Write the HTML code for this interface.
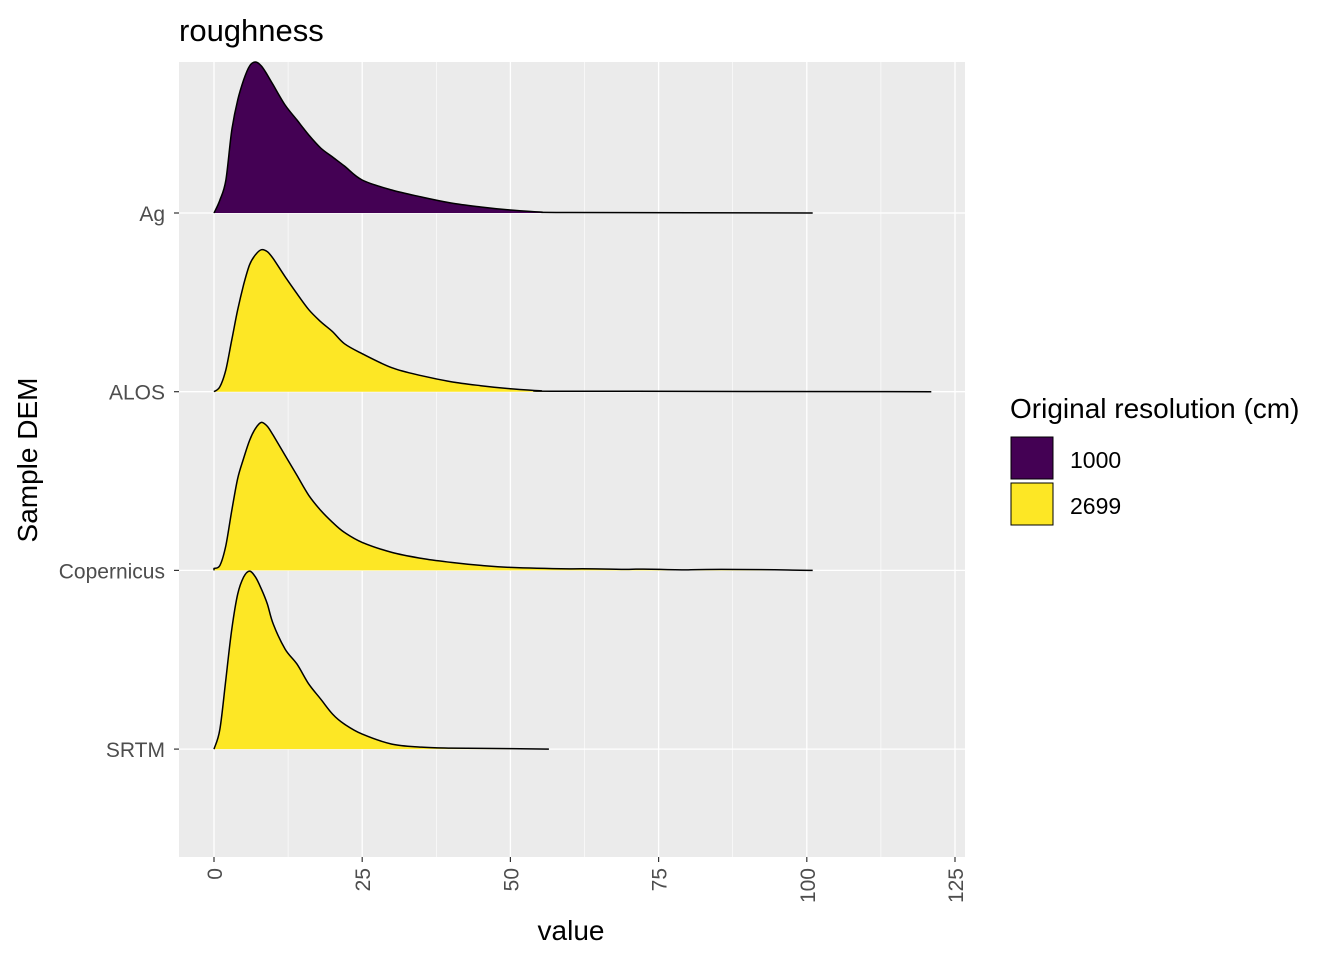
<!DOCTYPE html>
<html><head><meta charset="utf-8"><style>
body{margin:0;background:#fff;}
svg text{font-family:"Liberation Sans",Arial,sans-serif;}
</style></head><body>
<svg width="1344" height="960" xmlns="http://www.w3.org/2000/svg">
<rect width="1344" height="960" fill="#fff"/>
<text x="179" y="41" font-size="31" fill="#000">roughness</text>
<rect x="179" y="62" width="786" height="795" fill="#EBEBEB"/>
<g id="grid"></g>
<g id="ridges"></g>
<g id="axes"></g>
<text x="571" y="940" font-size="28" text-anchor="middle" fill="#000">value</text>
<text transform="translate(37,460) rotate(-90)" font-size="28" text-anchor="middle" fill="#000">Sample DEM</text>
<g>
<text x="1010" y="418" font-size="28" fill="#000">Original resolution (cm)</text>
<rect x="1011" y="437" width="42" height="42" fill="#440154" stroke="#000" stroke-width="1"/>
<text x="1070" y="468" font-size="23" fill="#000">1000</text>
<rect x="1011" y="483" width="42" height="42" fill="#FDE725" stroke="#000" stroke-width="1"/>
<text x="1070" y="514" font-size="23" fill="#000">2699</text>
</g>
</svg>
<script>
const categories = ["Ag","ALOS","Copernicus","SRTM"];
const colors = ["#440154","#FDE725","#FDE725","#FDE725"];
const xTicks = [0,25,50,75,100,125];
const agX = [0,1,2,3,4,5,6,7,8,9,10,12,14,16,18,20,22,25,30,35,40,45,50,55,60,101];
const agY = [0,13,33,83,113,133,147,151,147,138,128,108,93,78,65,56,47,33,23,16,10,6,3,1,0.5,0];
const alosX = [0,1,2,3,4,5,6,7,8,9,10,12,14,16,18,20,22,25,30,35,40,45,50,55,60,121];
const alosY = [0,5,22,52,82,107,127,137,142,140,133,115,98,82,70,60,48,38,24,16,10,6,3,1,0.5,0];
const copX = [0,1,2,3,4,5,6,7,8,9,10,12,14,16,18,20,22,25,30,35,40,45,50,60,70,80,101];
const copY = [2,5,25,60,92,112,130,142,148,144,135,115,95,75,60,48,38,28,18,12,8,5,3,1.5,1,0.5,0];
const srtmX = [0,1,2,3,4,5,6,7,8,9,10,12,14,16,18,20,22,25,30,35,40,50,56.5];
const srtmY = [0,20,70,120,155,172,178,172,160,145,125,100,85,65,50,35,25,15,5,2,1,0.5,0];
const seriesX = [agX,alosX,copX,srtmX];
const seriesY = [agY,alosY,copY,srtmY];

const NS="http://www.w3.org/2000/svg";
const xS = v => 214 + v*(741/125);
const baseY = i => 213 + i*178.7;
const hS = d => d;
function mk(tag, attrs, parent){const e=document.createElementNS(NS,tag);for(const k in attrs)e.setAttribute(k,attrs[k]);parent.appendChild(e);return e;}
function smooth(pts){
  let d=`M${pts[0][0].toFixed(1)},${pts[0][1].toFixed(1)}`;
  for(let i=0;i<pts.length-1;i++){
    const p0=pts[Math.max(0,i-1)],p1=pts[i],p2=pts[i+1],p3=pts[Math.min(pts.length-1,i+2)];
    const c1x=p1[0]+(p2[0]-p0[0])/6,c1y=p1[1]+(p2[1]-p0[1])/6;
    const c2x=p2[0]-(p3[0]-p1[0])/6,c2y=p2[1]-(p3[1]-p1[1])/6;
    d+=` C${c1x.toFixed(1)},${Math.min(c1y,pts[0][1]+0).toFixed(1)} ${c2x.toFixed(1)},${c2y.toFixed(1)} ${p2[0].toFixed(1)},${p2[1].toFixed(1)}`;
  }
  return d;
}
const grid=document.getElementById('grid'), ridges=document.getElementById('ridges'), axes=document.getElementById('axes');
for(let i=0;i<xTicks.length-1;i++){
  const v=(xTicks[i]+xTicks[i+1])/2;
  const l=mk('line',{x1:xS(v),x2:xS(v),y1:62,y2:857,stroke:'#fff','stroke-width':0.6},grid);
  
  
}
xTicks.forEach(v=>{
  const l=mk('line',{x1:xS(v),x2:xS(v),y1:62,y2:857,stroke:'#fff','stroke-width':1.3},grid);
  
  
  const t=mk('line',{x1:xS(v),x2:xS(v),y1:857,y2:862,stroke:'#333','stroke-width':1.2},axes);
  
  
  const tx=mk('text',{transform:`translate(${xS(v)+8},868) rotate(-90)`,'font-size':21,fill:'#4D4D4D','text-anchor':'end'},axes);
  tx.textContent=v;
  
  
});
categories.forEach((c,i)=>{
  const y=baseY(i);
  const l=mk('line',{x1:179,x2:965,y1:y,y2:y,stroke:'#fff','stroke-width':1.3},grid);
  
  
  const t=mk('line',{x1:174,x2:179,y1:y,y2:y,stroke:'#333','stroke-width':1.2},axes);
  
  
  const tx=mk('text',{x:165,y:y+8,'font-size':21,fill:'#4D4D4D','text-anchor':'end'},axes);
  tx.textContent=c;
  
  
});
categories.forEach((c,i)=>{
  const xs=seriesX[i], ys=seriesY[i], b=baseY(i);
  const pts=xs.map((v,j)=>[xS(v), b-hS(ys[j])]);
  const line=smooth(pts);
  const d=`M${xS(xs[0])},${b} L`+line.slice(1)+` L${xS(xs[xs.length-1])},${b} Z`;
  const p=mk('path',{d:d,fill:colors[i],stroke:'none'},ridges);
  
  
  const o=mk('path',{d:`M${xS(xs[0])},${b} L`+line.slice(1),fill:'none',stroke:'#000','stroke-width':1.5,'stroke-linejoin':'round'},ridges);
  
  
});
</script>
</body></html>
